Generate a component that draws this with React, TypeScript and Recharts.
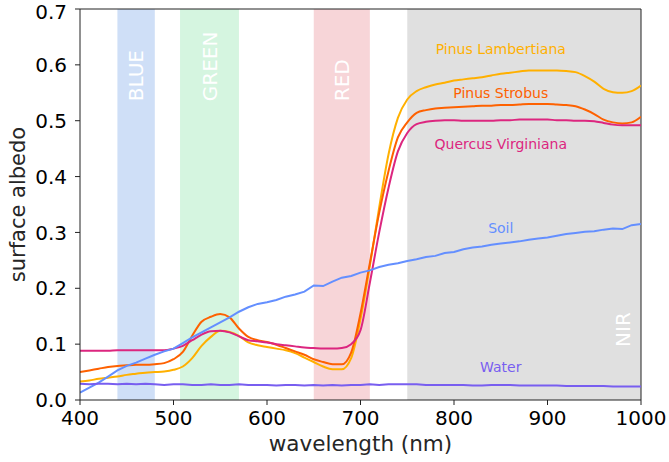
import {
  LineChart,
  Line,
  XAxis,
  YAxis,
  ReferenceArea,
  ReferenceDot,
  ReferenceLine,
  Label,
} from 'recharts';

const WAVELENGTH = [
  400, 410, 420, 430, 440, 450, 460, 470, 480, 490,
  500, 510, 520, 530, 540, 550, 560, 570, 580, 590,
  600, 610, 620, 630, 640, 650, 660, 670, 680, 690,
  700, 710, 720, 730, 740, 750, 760, 770, 780, 790,
  800, 810, 820, 830, 840, 850, 860, 870, 880, 890,
  900, 910, 920, 930, 940, 950, 960, 970, 980, 990,
  1000,
];

const LAMBERTIANA = [
  0.033, 0.035, 0.038, 0.040, 0.042, 0.045, 0.047, 0.049, 0.050, 0.051,
  0.054, 0.060, 0.075, 0.097, 0.113, 0.124, 0.122, 0.115, 0.103, 0.098,
  0.095, 0.092, 0.089, 0.084, 0.076, 0.068, 0.060, 0.055, 0.055, 0.075,
  0.145, 0.240, 0.345, 0.440, 0.505, 0.538, 0.553, 0.560, 0.565, 0.568,
  0.572, 0.574, 0.576, 0.578, 0.581, 0.584, 0.586, 0.588, 0.590, 0.590,
  0.590, 0.590, 0.589, 0.587, 0.580, 0.570, 0.557, 0.551, 0.550, 0.553,
  0.563,
];

const STROBUS = [
  0.050, 0.053, 0.056, 0.059, 0.061, 0.062, 0.063, 0.063, 0.064, 0.066,
  0.073, 0.086, 0.115, 0.140, 0.149, 0.154, 0.148, 0.128, 0.113, 0.107,
  0.104, 0.099, 0.093, 0.087, 0.081, 0.073, 0.068, 0.064, 0.064, 0.085,
  0.155, 0.245, 0.335, 0.410, 0.470, 0.497, 0.514, 0.519, 0.522, 0.523,
  0.524, 0.525, 0.526, 0.527, 0.527, 0.528, 0.528, 0.529, 0.530, 0.530,
  0.530, 0.529, 0.528, 0.526, 0.520, 0.512, 0.502, 0.497, 0.495, 0.497,
  0.507,
];

const QUERCUS = [
  0.088, 0.088, 0.088, 0.088, 0.089, 0.089, 0.089, 0.089, 0.089, 0.089,
  0.092, 0.097, 0.107, 0.117, 0.123, 0.124, 0.121, 0.114, 0.107, 0.105,
  0.103, 0.100, 0.098, 0.096, 0.094, 0.093, 0.092, 0.092, 0.093, 0.100,
  0.125, 0.210, 0.300, 0.380, 0.445, 0.478, 0.494, 0.498, 0.500, 0.501,
  0.501, 0.500, 0.500, 0.500, 0.500, 0.501, 0.501, 0.502, 0.502, 0.502,
  0.502, 0.501, 0.501, 0.500, 0.500, 0.499, 0.496, 0.493, 0.492, 0.492,
  0.492,
];

const SOIL = [
  0.013, 0.022, 0.031, 0.042, 0.053, 0.061, 0.067, 0.074, 0.081, 0.087,
  0.092, 0.102, 0.112, 0.121, 0.130, 0.139, 0.148, 0.158, 0.166, 0.172,
  0.175, 0.179, 0.185, 0.189, 0.194, 0.205, 0.204, 0.212, 0.219, 0.222,
  0.228, 0.232, 0.238, 0.242, 0.245, 0.249, 0.252, 0.256, 0.258, 0.263,
  0.265, 0.270, 0.273, 0.275, 0.278, 0.280, 0.282, 0.284, 0.287, 0.289,
  0.291, 0.294, 0.297, 0.299, 0.301, 0.302, 0.305, 0.307, 0.306, 0.313,
  0.315,
];

const WATER = [
  0.029, 0.028, 0.029, 0.029, 0.028, 0.029, 0.028, 0.029, 0.028, 0.027,
  0.028, 0.028, 0.027, 0.027, 0.028, 0.027, 0.027, 0.028, 0.027, 0.027,
  0.027, 0.026, 0.027, 0.027, 0.026, 0.027, 0.026, 0.027, 0.026, 0.027,
  0.027, 0.028, 0.027, 0.028, 0.028, 0.028, 0.028, 0.027, 0.027, 0.027,
  0.027, 0.027, 0.026, 0.026, 0.027, 0.027, 0.027, 0.026, 0.026, 0.026,
  0.026, 0.026, 0.025, 0.025, 0.025, 0.025, 0.025, 0.024, 0.024, 0.024,
  0.024,
];

const X_TICKS = [400, 500, 600, 700, 800, 900, 1000];
const Y_TICKS = [0, 0.1, 0.2, 0.3, 0.4, 0.5, 0.6, 0.7];

// spectral bands: [name, from, to, fill, label x (nm), label start (albedo)]
const BANDS: [string, number, number, string, number, number][] = [
  ['BLUE', 440, 480, '#cfdff7', 460, 0.535],
  ['GREEN', 507, 570, '#d5f5e0', 539, 0.535],
  ['RED', 650, 710, '#f7d5d8', 680, 0.535],
  ['NIR', 750, 1000, '#e0e0e0', 980, 0.095],
];

// series: [key, name, color, label albedo, curve]
const SERIES: [string, string, string, number, 'monotone' | 'linear'][] = [
  ['lambertiana', 'Pinus Lambertiana', '#ffb000', 0.628, 'monotone'],
  ['strobus', 'Pinus Strobus', '#fe6100', 0.55, 'monotone'],
  ['quercus', 'Quercus Virginiana', '#dc267f', 0.458, 'monotone'],
  ['soil', 'Soil', '#648fff', 0.308, 'linear'],
  ['water', 'Water', '#785ef0', 0.059, 'linear'],
];
const LABEL_X = 850;

const data = WAVELENGTH.map((wl, i) => ({
  wl,
  lambertiana: LAMBERTIANA[i],
  strobus: STROBUS[i],
  quercus: QUERCUS[i],
  soil: SOIL[i],
  water: WATER[i],
}));

function bandLabel(text: string, from: number, to: number, lx: number, ly: number) {
  return (props: any) => {
    const vb = props.viewBox;
    if (!vb) return null;
    const cx = vb.x + ((lx - from) / (to - from)) * vb.width;
    const sy = vb.y + ((0.7 - ly) / 0.7) * vb.height;
    return (
      <text
        transform={`translate(${cx}, ${sy}) rotate(-90)`}
        dy="0.36em"
        fill="#ffffff"
        fontSize={20}
        textAnchor="start"
      >
        {text}
      </text>
    );
  };
}

export default function App() {
  return (
    <div style={{ position: 'absolute', left: 0, top: 0, fontFamily: '"DejaVu Sans", sans-serif' }}>
      <LineChart
        width={669}
        height={462}
        data={data}
        margin={{ top: 9, right: 28, left: 0, bottom: 0 }}
      >
        <XAxis
          dataKey="wl"
          type="number"
          domain={[400, 1000]}
          ticks={X_TICKS}
          allowDataOverflow
          height={62}
          tickSize={5}
          tickMargin={6}
          tick={{ fill: '#000', fontSize: 20 }}
          stroke="#222"
        >
          <Label
            value="wavelength (nm)"
            position="insideBottom"
            offset={11}
            fill="#262626"
            fontSize={21.5}
          />
        </XAxis>
        <YAxis
          type="number"
          domain={[0, 0.7]}
          ticks={Y_TICKS}
          allowDataOverflow
          width={80}
          tickSize={5}
          tickMargin={8}
          tick={{ fill: '#000', fontSize: 20 }}
          tickFormatter={(v: number) => v.toFixed(1)}
          stroke="#222"
        >
          <Label
            value="surface albedo"
            angle={-90}
            position="insideLeft"
            offset={18}
            fill="#262626"
            fontSize={21}
            style={{ textAnchor: 'middle' }}
          />
        </YAxis>
        {BANDS.map(([name, from, to, fill, lx, ly]) => (
          <ReferenceArea
            key={name}
            x1={from}
            x2={to}
            y1={0}
            y2={0.7}
            fill={fill}
            fillOpacity={1}
            stroke="none"
            label={bandLabel(name, from, to, lx, ly)}
          />
        ))}
        <ReferenceLine y={0.7} stroke="#222" strokeWidth={1} />
        <ReferenceLine x={1000} stroke="#222" strokeWidth={1} />
        {SERIES.map(([key, name, color, , curve]) => (
          <Line
            key={key}
            dataKey={key}
            name={name}
            type={curve}
            stroke={color}
            strokeWidth={2}
            dot={false}
            isAnimationActive={false}
          />
        ))}
        {SERIES.map(([key, name, color, ly]) => (
          <ReferenceDot
            key={`lbl-${key}`}
            x={LABEL_X}
            y={ly}
            r={0}
            fill="none"
            stroke="none"
            label={{ value: name, position: 'center', fill: color, fontSize: 14 }}
          />
        ))}
      </LineChart>
    </div>
  );
}
